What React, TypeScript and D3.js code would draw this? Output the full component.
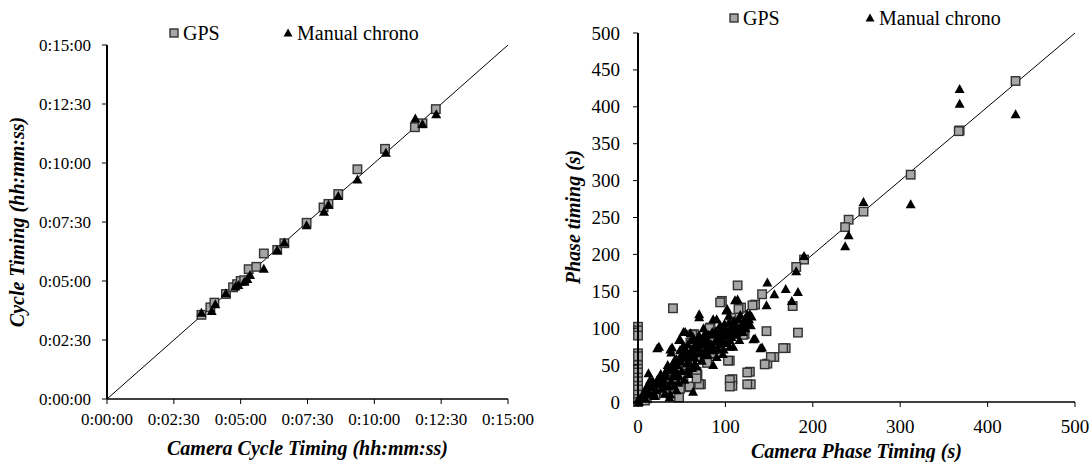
import React from "react";
import * as d3 from "d3";

// ---- Left chart: cycle timings (seconds) ----
const cycleTicks = [0, 150, 300, 450, 600, 750, 900];
const gpsCycle: [number, number][] = [
  [212, 214], [232, 233], [241, 245], [267, 267], [283, 284], [292, 292], [300, 300], [308, 302],
  [318, 330], [335, 336], [352, 370], [382, 379], [398, 396], [448, 448], [486, 487], [497, 496],
  [519, 521], [562, 584], [624, 636], [691, 691], [708, 701], [738, 737],
];
const manualCycle: [number, number][] = [
  [212, 219], [235, 224], [243, 241], [267, 269], [288, 286], [295, 290], [308, 298], [315, 305],
  [321, 315], [352, 331], [382, 379], [398, 398], [448, 442], [487, 476], [497, 494], [519, 516],
  [562, 558], [626, 626], [692, 713], [708, 699], [739, 724],
];

// ---- Right chart: phase timings (s) ----
const phaseTicks = [0, 100, 200, 300, 400, 500];
const phaseYTicks = [0, 50, 100, 150, 200, 250, 300, 350, 400, 450, 500];
const gpsPhase: [number, number][] = [
  [0, 102], [0, 97], [0, 90], [0, 66], [0, 62], [0, 50], [0, 45], [0, 40], [0, 33], [0, 28], [0, 22], [0, 17], [0, 10], [0, 4], [0, 0],
  [432, 435], [368, 368], [367, 367], [312, 308], [258, 258], [241, 247], [237, 237], [190, 193], [181, 183],
  [177, 130], [183, 94], [169, 73], [156, 61], [148, 52], [147, 96], [142, 146], [134, 132], [128, 41], [129, 24],
  [122, 92], [114, 158], [118, 128], [108, 31], [108, 22], [105, 56], [96, 137], [107, 114], [40, 127], [40, 19],
  [47, 6], [49, 20], [60, 20], [72, 24], [68, 37], [85, 66], [83, 101], [64, 92], [76, 76], [79, 53], [102, 101], [114, 92],
  [94, 135], [131, 131], [115, 126], [82, 100], [120, 91], [166, 73], [152, 61], [145, 51], [125, 40], [105, 30],
  [105, 21], [125, 24], [103, 56], [70, 24], [59, 21], [48, 18], [62, 91], [67, 41], [67, 32], [56, 43], [29, 12],
  [21, 16], [20, 10], [35, 28], [52, 34], [71, 61], [60, 80], [86, 84], [92, 77], [79, 75], [101, 86],
  [10, 5], [15, 12], [25, 20], [30, 15], [38, 25], [42, 33], [8, 2], [50, 45], [55, 50],
];
const manualPhase: [number, number][] = [
  [368, 424], [368, 404], [432, 390], [312, 268], [258, 271], [241, 226], [237, 211], [190, 198], [181, 177],
  [176, 137], [183, 149], [169, 153], [156, 146], [148, 162], [147, 131], [134, 86], [142, 74], [128, 119],
  [114, 139], [102, 126], [70, 119], [90, 112], [24, 75], [39, 74], [48, 85], [54, 95], [109, 75], [36, 6], [1, 0],
  [111, 138], [101, 124], [70, 115], [125, 119], [52, 95], [86, 112], [75, 100], [47, 84], [22, 73], [37, 71],
  [38, 67], [132, 85], [140, 73], [124, 109], [117, 98], [105, 75], [94, 88], [82, 75], [67, 80], [60, 68],
  [48, 61], [40, 52], [33, 43], [25, 34], [14, 30], [10, 21], [6, 12], [0, 3], [29, 30], [44, 39], [56, 52],
  [71, 66], [90, 61], [98, 71], [105, 84], [113, 102], [121, 109], [60, 93], [52, 77], [79, 86], [86, 50],
  [67, 48], [35, 21], [44, 16], [21, 16], [14, 10], [8, 5], [37, 10], [63, 14], [12, 39],
  [15, 20], [18, 12], [25, 26], [30, 22], [35, 45], [40, 35], [45, 50], [50, 42], [55, 65], [58, 55], [62, 72],
  [65, 60], [68, 82], [72, 68], [75, 88], [78, 72], [80, 80], [85, 95], [88, 82], [92, 86], [95, 100], [98, 90],
  [102, 95], [105, 108], [108, 98], [112, 104], [115, 112], [118, 100], [122, 112], [126, 106], [130, 116],
  [42, 57], [48, 70], [53, 60], [57, 78], [63, 88], [66, 73], [74, 78], [77, 94], [83, 70], [87, 92], [93, 78],
  [97, 65], [100, 80], [107, 88], [111, 92], [116, 84], [120, 95], [10, 14], [20, 24], [27, 18], [32, 35],
  [38, 28], [43, 44], [47, 35],
  [5, 8], [9, 17], [13, 24], [17, 28], [22, 30], [26, 38], [31, 40], [34, 50], [39, 46], [44, 58], [49, 55],
  [51, 66], [54, 72], [59, 62], [61, 84], [64, 66], [68, 74], [70, 90], [73, 84], [76, 64], [81, 91], [84, 78],
  [89, 96], [91, 72], [94, 104], [96, 84], [99, 106], [103, 90], [106, 100], [110, 110], [113, 94], [117, 118],
  [119, 106], [123, 100], [127, 112], [129, 104], [73, 56], [65, 52], [57, 44], [28, 26], [19, 8], [31, 12],
  [41, 22], [53, 30], [58, 38], [62, 46], [46, 26], [80, 64], [88, 70], [95, 92], [100, 97], [104, 117],
];

const legendLabels = ["GPS", "Manual chrono"];

const FONT = "'Liberation Serif', 'Times New Roman', serif";
const SQ_FILL = "#a6a6a6";
const SQ_STROKE = "#333333";

function fmtHMS(s: number) {
  const h = Math.floor(s / 3600);
  const m = Math.floor((s % 3600) / 60);
  const sec = Math.round(s % 60);
  return `${h}:${String(m).padStart(2, "0")}:${String(sec).padStart(2, "0")}`;
}

const Square = ({ x, y, s = 8.5 }: { x: number; y: number; s?: number }) => (
  <rect x={x - s / 2} y={y - s / 2} width={s} height={s} fill={SQ_FILL} stroke={SQ_STROKE} strokeWidth={1.4} />
);
const Tri = ({ x, y, s = 10 }: { x: number; y: number; s?: number }) => (
  <path d={`M${x},${y - s * 0.5} L${x + s / 2},${y + s * 0.4} L${x - s / 2},${y + s * 0.4} Z`} fill="#000" />
);

function Left() {
  const x = d3.scaleLinear().domain([0, 900]).range([107, 508]);
  const y = d3.scaleLinear().domain([0, 900]).range([399, 45]);
  const line = d3.line<[number, number]>().x((d) => x(d[0])).y((d) => y(d[1]));
  return (
    <g>
      <path d={line([[0, 0], [900, 900]]) || ""} stroke="#000" strokeWidth={1} fill="none" />
      {gpsCycle.map((d, i) => <Square key={"g" + i} x={x(d[0])} y={y(d[1])} />)}
      {manualCycle.map((d, i) => <Tri key={"m" + i} x={x(d[0])} y={y(d[1])} />)}
      <line x1={x(0)} x2={x(0)} y1={y(0)} y2={y(900)} stroke="#000" strokeWidth={2} />
      <line x1={x(0)} x2={x(900)} y1={y(0)} y2={y(0)} stroke="#000" strokeWidth={1.3} />
      {cycleTicks.map((t) => (
        <g key={"yt" + t}>
          <line x1={x(0) - 5} x2={x(0)} y1={y(t)} y2={y(t)} stroke="#000" strokeWidth={1} />
          <text x={91} y={y(t) + 6} textAnchor="end" fontSize={17} fontFamily={FONT}>{fmtHMS(t)}</text>
        </g>
      ))}
      {cycleTicks.map((t) => (
        <g key={"xt" + t}>
          <line x1={x(t)} x2={x(t)} y1={y(0)} y2={y(0) + 5} stroke="#000" strokeWidth={1} />
          <text x={x(t)} y={425} textAnchor="middle" fontSize={17} fontFamily={FONT}>{fmtHMS(t)}</text>
        </g>
      ))}
      <text x={307.5} y={455} textAnchor="middle" fontSize={20} fontWeight="bold" fontStyle="italic" fontFamily={FONT}>
        Camera Cycle Timing (hh:mm:ss)
      </text>
      <text transform="translate(24,222) rotate(-90)" textAnchor="middle" fontSize={20} fontWeight="bold" fontStyle="italic" fontFamily={FONT}>
        Cycle Timing (hh:mm:ss)
      </text>
      <Square x={174} y={33} s={8} />
      <text x={183} y={40} fontSize={20} fontFamily={FONT}>{legendLabels[0]}</text>
      <Tri x={288} y={33} s={9} />
      <text x={297} y={40} fontSize={20} fontFamily={FONT}>{legendLabels[1]}</text>
    </g>
  );
}

function Right() {
  const x = d3.scaleLinear().domain([0, 500]).range([638, 1075]);
  const y = d3.scaleLinear().domain([0, 500]).range([402, 33]);
  const line = d3.line<[number, number]>().x((d) => x(d[0])).y((d) => y(d[1]));
  return (
    <g>
      <path d={line([[0, 0], [500, 500]]) || ""} stroke="#000" strokeWidth={1} fill="none" />
      {gpsPhase.map((d, i) => <Square key={"g" + i} x={x(d[0])} y={y(d[1])} />)}
      {manualPhase.map((d, i) => <Tri key={"m" + i} x={x(d[0])} y={y(d[1])} />)}
      <line x1={x(0)} x2={x(0)} y1={y(0)} y2={y(500)} stroke="#000" strokeWidth={2} />
      <line x1={x(0)} x2={x(500)} y1={y(0)} y2={y(0)} stroke="#000" strokeWidth={1.3} />
      {phaseYTicks.map((t) => (
        <g key={"yt" + t}>
          <line x1={x(0) - 5} x2={x(0)} y1={y(t)} y2={y(t)} stroke="#000" strokeWidth={1} />
          <text x={620} y={y(t) + 6.5} textAnchor="end" fontSize={19} fontFamily={FONT}>{t}</text>
        </g>
      ))}
      {phaseTicks.map((t) => (
        <g key={"xt" + t}>
          <line x1={x(t)} x2={x(t)} y1={y(0)} y2={y(0) + 5} stroke="#000" strokeWidth={1} />
          <text x={x(t)} y={433} textAnchor="middle" fontSize={19} fontFamily={FONT}>{t}</text>
        </g>
      ))}
      <text x={856.5} y={458} textAnchor="middle" fontSize={20} fontWeight="bold" fontStyle="italic" fontFamily={FONT}>
        Camera Phase Timing (s)
      </text>
      <text transform="translate(580,217) rotate(-90)" textAnchor="middle" fontSize={20} fontWeight="bold" fontStyle="italic" fontFamily={FONT}>
        Phase timing (s)
      </text>
      <Square x={734} y={18} s={8} />
      <text x={743} y={25} fontSize={20} fontFamily={FONT}>{legendLabels[0]}</text>
      <Tri x={870} y={18} s={9} />
      <text x={879} y={25} fontSize={20} fontFamily={FONT}>{legendLabels[1]}</text>
    </g>
  );
}

export default function App() {
  return (
    <svg width={1092} height={462} style={{ position: "absolute", left: 0, top: 0, background: "#fff" }}>
      <rect width={1092} height={462} fill="#fff" />
      <Left />
      <Right />
    </svg>
  );
}
